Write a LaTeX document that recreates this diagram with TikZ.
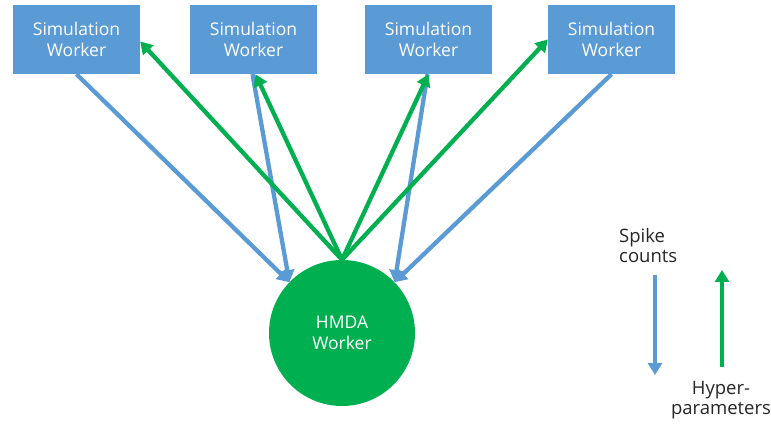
\documentclass[tikz,border=0pt]{standalone}
\usepackage{fontspec}
\setmainfont{Open Sans}
\usetikzlibrary{arrows.meta}
\definecolor{boxblue}{HTML}{5B9BD5}
\definecolor{arrblue}{HTML}{5B9BD5}
\definecolor{hgreen}{HTML}{00B050}
\newcommand{\legfont}{\fontsize{18.5}{20}\selectfont}
\begin{document}
\begin{tikzpicture}[x=1pt,y=1pt,
  simbox/.style={fill=boxblue,draw=none,minimum width=127pt,minimum height=69pt,inner sep=0pt,
    text=white,align=center,font=\fontsize{17.5}{21}\selectfont},
  hcircle/.style={circle,fill=hgreen,draw=none,minimum size=146pt,inner sep=0pt,
    text=white,align=center,font=\fontsize{17.5}{21}\selectfont},
  spike/.style={draw=arrblue,line width=4.3pt,-{Triangle[length=12pt,width=14pt]}},
  hyper/.style={draw=hgreen,line width=4.3pt,-{Triangle[length=12pt,width=14pt]}},
  legtext/.style={inner sep=0pt,font=\legfont,text=black!85}
]
\useasboundingbox (0,0) rectangle (771,426);
\node[simbox] (b1) at (76.5,386.5) {Simulation\\Worker};
\node[simbox] (b2) at (253.5,386.5) {Simulation\\Worker};
\node[simbox] (b3) at (428.5,386.5) {Simulation\\Worker};
\node[simbox] (b4) at (611.5,386.5) {Simulation\\Worker};
\node[hcircle] (h) at (342,93) {HMDA\\Worker};
% spike counts
\draw[spike] (b1.south) -- (h.136);
\draw[spike] ([xshift=-1pt]b2.south) -- (h.136);
\draw[spike] ([xshift=-1pt]b3.south) -- (h.44);
\draw[spike] (b4.south) -- (h.44);
% hyper-parameters
\draw[hyper] (h.north) -- ([yshift=-2pt]b1.east);
\draw[hyper] (h.north) -- ([xshift=2pt]b2.south);
\draw[hyper] (h.north) -- (b3.south);
\draw[hyper] (h.north) -- (b4.west);
% legend
\node[legtext,align=left,anchor=west] (lspike) at (619,180) {Spike\\counts};
\coordinate (ls1) at (655,151);
\coordinate (ls2) at (655,51);
\draw[spike] (ls1) -- (ls2);
\coordinate (lh1) at (722,59);
\coordinate (lh2) at (722,156);
\draw[hyper] (lh1) -- (lh2);
\node[legtext,align=center] (lhyper) at (721,26) {Hyper-\\parameters};
\end{tikzpicture}
\end{document}
